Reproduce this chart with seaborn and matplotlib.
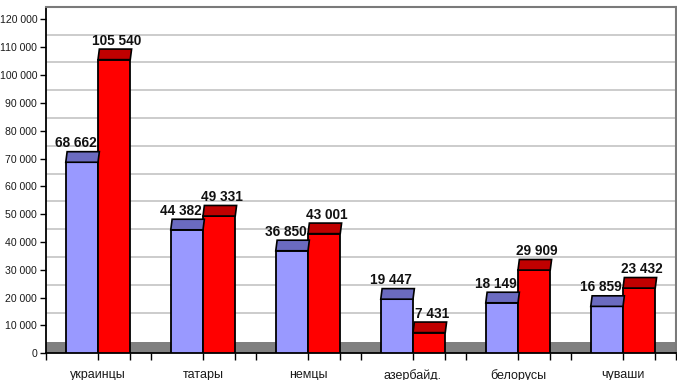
import pandas as pd
import matplotlib
matplotlib.use("Agg")
import matplotlib.pyplot as plt
from matplotlib.patches import Polygon
from matplotlib.ticker import FixedLocator, FuncFormatter
import seaborn as sns

# data
categories = ["украинцы", "татары", "немцы", "азербайд.", "белорусы", "чуваши"]
series_names = ["серия 1", "серия 2"]
values_1 = [68662, 44382, 36850, 19447, 18149, 16859]
values_2 = [105540, 49331, 43001, 7431, 29909, 23432]
y_ticks = list(range(0, 120001, 10000))

front_colors = ["#9999FF", "#FF0000"]
cap_colors = ["#6B6BC0", "#C00000"]

df = pd.DataFrame({
    "group": categories * 2,
    "series": [series_names[0]] * len(categories) + [series_names[1]] * len(categories),
    "value": values_1 + values_2,
})

sns.set_style("white")
plt.rcParams["font.family"] = ["Liberation Sans", "DejaVu Sans"]

fig = plt.figure(figsize=(6.77, 3.80), dpi=100)
ax = fig.add_axes([45.5 / 677, 26.7 / 380, 630 / 677, 346.6 / 380])

depth = 4570      # back wall offset (data units)
cap_h = 3800      # height of the 3d top of each bar
floor_h = 4200
dx = 0.013
label_shift = [-0.06, 0.02]   # excel places labels slightly off-centre

sns.barplot(data=df, x="group", y="value", hue="series", palette=front_colors,
            saturation=1, width=0.614, gap=0, edgecolor="black", linewidth=1.3,
            legend=False, ax=ax, zorder=3)

ax.set_xlim(-0.5, len(categories) - 0.5)
ax.set_ylim(0, y_ticks[-1] + depth)

# back wall gridlines and floor
for t in y_ticks[1:-1]:
    ax.axhline(t + depth, color="#C8C8C8", lw=1.3, zorder=0)
ax.axhspan(0, floor_h, color="#808080", lw=0, zorder=1)

# 3d caps and value labels
for i, cont in enumerate(ax.containers):
    for p in cont.patches:
        x0, w, h = p.get_x(), p.get_width(), p.get_height()
        cap = Polygon([(x0, h), (x0 + w, h), (x0 + w + dx, h + cap_h), (x0 + dx, h + cap_h)],
                      closed=True, facecolor=cap_colors[i], edgecolor="black", lw=1.2, zorder=4)
        ax.add_patch(cap)
        ax.text(x0 + w / 2 + dx / 2 + label_shift[i], h + cap_h + 500, f"{int(h):,}".replace(",", " "),
                ha="center", va="bottom", fontsize=9.8, fontweight="bold", color="#111111", zorder=5)

ax.yaxis.set_major_locator(FixedLocator(y_ticks))
ax.yaxis.set_major_formatter(FuncFormatter(lambda v, pos: f"{int(v):,}".replace(",", " ")))
ax.tick_params(axis="y", left=True, direction="out", length=4, width=1, color="black",
               labelsize=7.6, labelcolor="#1a1a1a", pad=2)

bw = 0.614 / 2
ax.xaxis.set_major_locator(FixedLocator([k - 0.5 for k in range(len(categories) + 1)]))
ax.xaxis.set_major_formatter(FuncFormatter(lambda v, pos: ""))
minor = []
for k in range(len(categories)):
    minor += [k, k + bw]
ax.xaxis.set_minor_locator(FixedLocator(minor))
ax.xaxis.set_minor_formatter(FuncFormatter(lambda v, pos: categories[int(round(v))] if abs(v - round(v)) < 1e-6 else ""))
ax.tick_params(axis="x", which="both", bottom=True, direction="out", length=5, width=1,
               color="black", labelsize=9, labelcolor="#1a1a1a", pad=6)

ax.set_xlabel("")
ax.set_ylabel("")

ax.spines["left"].set_color("black")
ax.spines["left"].set_linewidth(1.3)
ax.spines["bottom"].set_color("black")
ax.spines["bottom"].set_linewidth(1.3)
ax.spines["top"].set_color("#7a7a7a")
ax.spines["top"].set_linewidth(1.5)
ax.spines["right"].set_color("#7a7a7a")
ax.spines["right"].set_linewidth(1.5)

fig.savefig("out.png", dpi=100, facecolor="white")
